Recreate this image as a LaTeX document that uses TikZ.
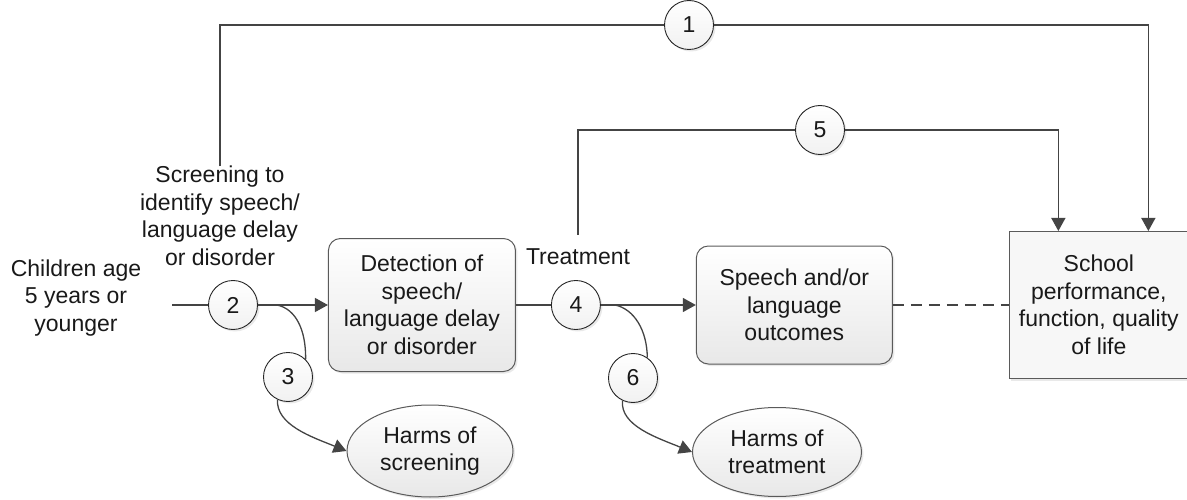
\documentclass[tikz,border=0pt]{standalone}
\usepackage{fontspec}
\setmainfont{Liberation Sans}
\usetikzlibrary{arrows.meta,positioning,shadows,shapes.geometric}

\definecolor{wire}{HTML}{444444}
\definecolor{rim}{HTML}{5A5A5A}
\definecolor{shade}{HTML}{E8E8E8}
\definecolor{flat}{HTML}{F7F7F7}

\begin{document}
\begin{tikzpicture}[x=1pt,y=1pt,line width=1.3pt,>={Triangle[length=13pt,width=14pt]},
  every node/.style={font=\fontsize{23}{27.5}\selectfont,text=black!90,align=center},
  soft/.style={drop shadow={shadow xshift=2pt,shadow yshift=-2pt,opacity=0.25,fill=gray!70}},
  num node/.style={circle,draw=black!85,line width=0.9pt,minimum size=49pt,inner sep=0pt,
    top color=white,bottom color=shade!60,soft},
  round box/.style={rectangle,rounded corners=12pt,draw=rim,line width=1pt,inner sep=0pt,
    top color=white,bottom color=shade,soft},
  flat box/.style={rectangle,draw=rim,line width=1pt,inner sep=0pt,fill=flat,soft},
  harm node/.style={ellipse,draw=rim,line width=1pt,inner sep=0pt,
    top color=white,bottom color=shade,soft},
  link/.style={draw=wire}]

  \useasboundingbox (0,0) rectangle (1187,-500);

  % Main chain
  \coordinate (s) at (172,-305);
  \node (kids) at (76,-298) {Children age\\5 years or\\younger};
  \node[num node] (c2) at (233,-305) {2};
  \node[round box,minimum width=187pt,minimum height=133pt,right=70pt of c2] (det)
    {Detection of\\speech/\\language delay\\or disorder};
  \node[num node,right=35pt of det] (c4) {4};
  \node[round box,minimum width=196pt,minimum height=118pt,right=95pt of c4] (sp)
    {Speech and/or\\language\\outcomes};
  \node[flat box,minimum width=179pt,minimum height=147pt,right=116pt of sp] (sch)
    {School\\performance,\\function, quality\\of life};

  % Labels
  \node (scr) at (220,-216) {Screening to\\identify speech/\\language delay\\or disorder};
  \node (trt) at (578,-257) {Treatment};

  % Harms
  \node[num node] (c3) at (288,-377) {3};
  \node[harm node,minimum width=166pt,minimum height=92pt] (hs) at (430,-451) {Harms of\\screening};
  \node[num node] (c6) at (633,-378) {6};
  \node[harm node,minimum width=169pt,minimum height=89pt] (ht) at (777,-452) {Harms of\\treatment};

  % Overarching links
  \node[num node] (c1) at (689,-25) {1};
  \node[num node] (c5) at (820,-130) {5};

  % Forward arrows
  \path[link] (s) -- (c2.west);
  \path[link,->] (c2.east) -- (det.west);
  \path[link] (det.east) -- (c4.west);
  \path[link,->] (c4.east) -- (sp.west);
  \path[link,dash pattern=on 11pt off 7pt] (sp.east) -- (sch.west);

  \path[link] ([yshift=-4pt]scr.north) |- (c1.west);
  \path[link,->] (c1.east) -| ([xshift=49.5pt]sch.north);
  \path[link] ([yshift=10pt]trt.north) |- (c5.west);
  \path[link,->] (c5.east) -| ([xshift=-40.5pt]sch.north);

  % Harms branches
  \coordinate (b2) at (277,-305);
  \coordinate (b4) at (615,-305);
  \path[link] (b2) .. controls (296,-309) and (306,-330) .. (c3.45);
  \path[link,->] (c3.-115) .. controls (276,-425) and (312,-437) .. (hs.west);
  \path[link] (b4) .. controls (634,-309) and (647,-330) .. (c6.55);
  \path[link,->] (c6.-115) .. controls (620,-426) and (658,-438) .. (ht.west);

\end{tikzpicture}
\end{document}
